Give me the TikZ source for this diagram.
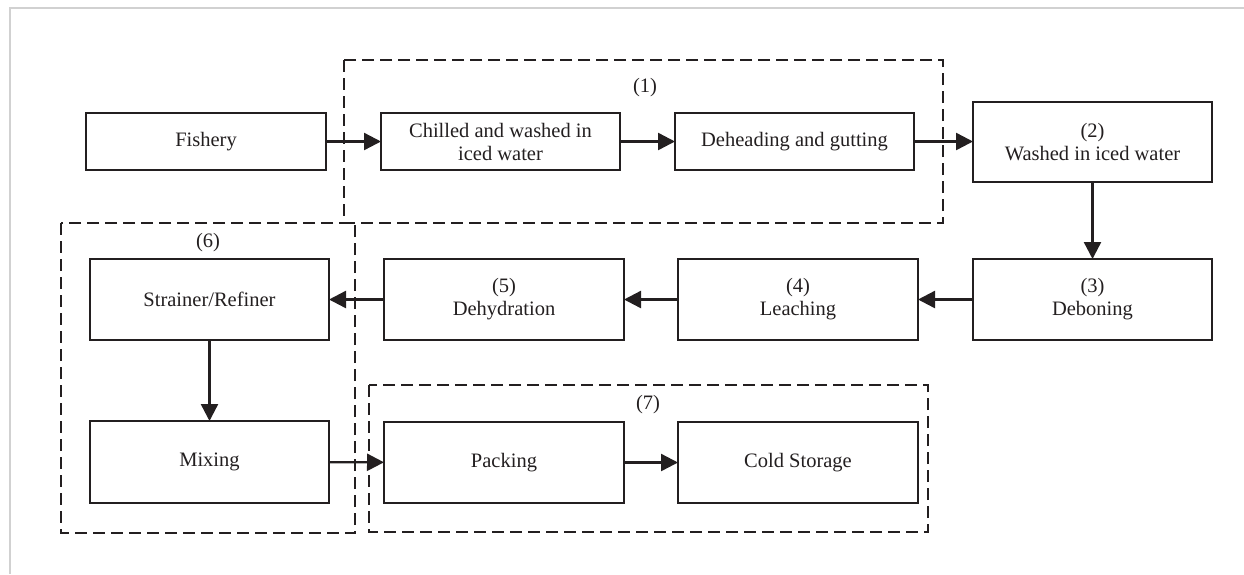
\documentclass[tikz,border=0pt]{standalone}
\usepackage{fontspec}
\setmainfont{Liberation Serif}
\usetikzlibrary{arrows.meta}
\definecolor{ink}{HTML}{231F20}
\begin{document}
\begin{tikzpicture}[x=1pt,y=-1pt,
  stepbox/.style={draw=ink, line width=1.9pt, fill=white, inner sep=0pt, outer sep=0pt,
    align=center, text=ink, font=\fontsize{20.5}{23}\selectfont},
  flow/.style={draw=ink, line width=2.4pt, -{Triangle[length=17pt,width=17pt]}},
  group/.style={draw=ink, line width=1.9pt, dash pattern=on 12pt off 6pt},
  grouplabel/.style={text=ink, font=\fontsize{20.5}{23}\selectfont, inner sep=0pt}
]
\useasboundingbox (0,0) rectangle (1244,574);
% light frame
\draw[black!18, line width=1.5pt] (10,574) -- (10,8) -- (1244,8);

% dashed groups
\draw[group] (344,60) rectangle (943,223);
\draw[group] (61,223) rectangle (355,533);
\draw[group] (369,385) rectangle (928,532);
\node[grouplabel] (g1) at (645,88) {(1)};
\node[grouplabel] (g6) at (208,243) {(6)};
\node[grouplabel] (g7) at (648,405) {(7)};

% boxes
\node[stepbox, minimum width=240pt, minimum height=57pt] (fishery) at (206,141.5) {Fishery};
\node[stepbox, minimum width=239pt, minimum height=57pt] (chilled) at (500.5,141.5) {Chilled and washed in\\iced water};
\node[stepbox, minimum width=239pt, minimum height=57pt] (dehead) at (794.5,141.5) {Deheading and gutting};
\node[stepbox, minimum width=239pt, minimum height=80pt] (washed) at (1092.5,142) {(2)\\Washed in iced water};
\node[stepbox, minimum width=239pt, minimum height=81pt] (debon) at (1092.5,299.5) {(3)\\Deboning};
\node[stepbox, minimum width=240pt, minimum height=81pt] (leach) at (798,299.5) {(4)\\Leaching};
\node[stepbox, minimum width=240pt, minimum height=81pt] (dehyd) at (504,299.5) {(5)\\Dehydration};
\node[stepbox, minimum width=239pt, minimum height=81pt] (strain) at (209.5,299.5) {Strainer/Refiner};
\node[stepbox, minimum width=239pt, minimum height=82pt] (mixing) at (209.5,462) {Mixing};
\node[stepbox, minimum width=240pt, minimum height=81pt] (packing) at (504,462.5) {Packing};
\node[stepbox, minimum width=240pt, minimum height=81pt] (cold) at (798,462.5) {Cold Storage};

% connectors
\draw[flow] (fishery) -- (chilled);
\draw[flow] (chilled) -- (dehead);
\draw[flow] (dehead.east) -- (dehead.east -| washed.west);
\draw[flow] (washed) -- (debon);
\draw[flow] (debon) -- (leach);
\draw[flow] (leach) -- (dehyd);
\draw[flow] (dehyd) -- (strain);
\draw[flow] (strain) -- (mixing);
\draw[flow] (mixing) -- (packing);
\draw[flow] (packing) -- (cold);
\end{tikzpicture}
\end{document}
